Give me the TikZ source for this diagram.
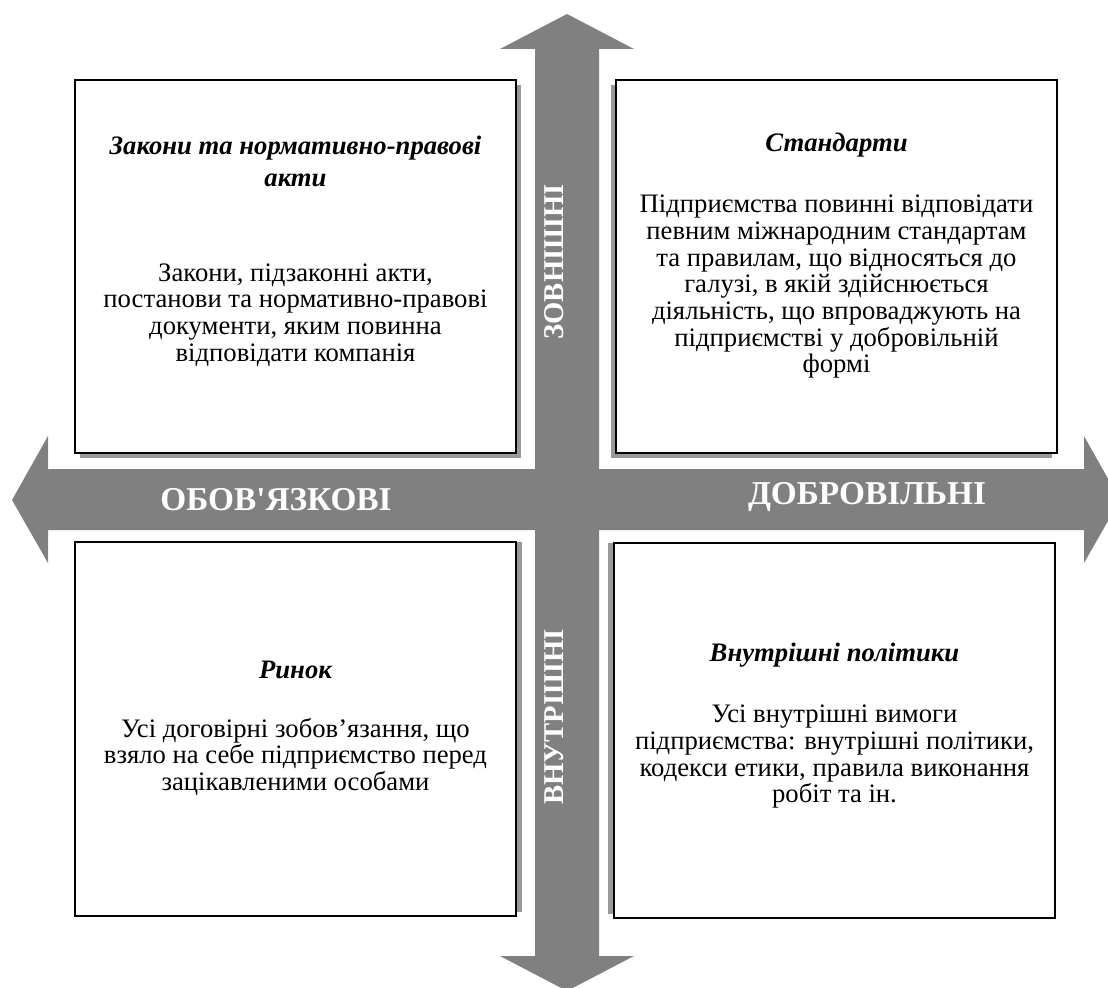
\documentclass[tikz,border=0pt]{standalone}
\usepackage{fontspec}
\setmainfont{Liberation Serif}[Ligatures=TeXOff]
\definecolor{arrowgray}{HTML}{808080}
\definecolor{shadowgray}{HTML}{999999}
\begin{document}
\begin{tikzpicture}[x=0.75pt,y=-0.75pt,
  box/.style={draw=black,line width=1.6pt,fill=white},
  shadowbox/.style={fill=shadowgray},
  body/.style={font=\fontsize{20}{20}\selectfont, align=center, inner sep=0pt},
  ttl/.style={font=\fontsize{20}{24}\selectfont\bfseries\itshape, align=center, inner sep=0pt},
  axl/.style={font=\fontsize{25}{28}\selectfont\bfseries, text=white, inner sep=0pt},
  axv/.style={font=\fontsize{21.5}{24}\selectfont\bfseries, text=white, inner sep=0pt, rotate=90}]
\useasboundingbox (0,0) rectangle (1108,988);
\clip (0,0) rectangle (1108,988);
% arrows
\fill[arrowgray] (535,49) -- (500,49) -- (567,14) -- (634,49) -- (599,49) -- (599,956) -- (634,956) -- (567,991) -- (500,956) -- (535,956) -- cycle;
\fill[arrowgray] (48,469) -- (48,436) -- (12,500) -- (48,563) -- (48,530) -- (1084,530) -- (1084,563) -- (1120,500) -- (1084,436) -- (1084,469) -- cycle;
% axis labels
\node[axl] (mand) at (276,500) {ОБОВ'ЯЗКОВІ};
\node[axl] (vol) at (867,497) {ДОБРОВІЛЬНІ};
\node[axv] (ext) at (554,262) {ЗОВНІШНІ};
\node[axv] (int) at (554,717) {ВНУТРІШНІ};
% shadows
\fill[shadowbox] (80,85) rectangle (521,458);
\fill[shadowbox] (611,85) rectangle (1052,458);
\fill[shadowbox] (81,542) rectangle (522,912);
\fill[shadowbox] (608,543) rectangle (1049,914);
% boxes
\draw[box] (75,80) rectangle (516,453);
\draw[box] (616,80) rectangle (1057,453);
\draw[box] (75,542) rectangle (516,916);
\draw[box] (614,543) rectangle (1055,918);
% texts
\node[ttl] (tlt) at (295.5,161) {Закони та нормативно-правові\\акти};
\node[body] (tlb) at (295.5,315) {Закони, підзаконні акти,\\постанови та нормативно-правові\\документи, яким повинна\\відповідати компанія};
\node[ttl] (trt) at (836.5,145) {Стандарти};
\node[body] (trb) at (836.5,287) {Підприємства повинні відповідати\\певним міжнародним стандартам\\та правилам, що відносяться до\\галузі, в якій здійснюється\\діяльність, що впроваджують на\\підприємстві у добровільній\\формі};
\node[ttl] (blt) at (295.5,670) {Ринок};
\node[body] (blb) at (295.5,757) {Усі договірні зобов’язання, що\\взяло на себе підприємство перед\\зацікавленими особами};
\node[ttl] (brt) at (834.5,655) {Внутрішні політики};
\node[body] (brb) at (834.5,757) {Усі внутрішні вимоги\\підприємства: внутрішні політики,\\кодекси етики, правила виконання\\робіт та ін.};
\end{tikzpicture}
\end{document}
